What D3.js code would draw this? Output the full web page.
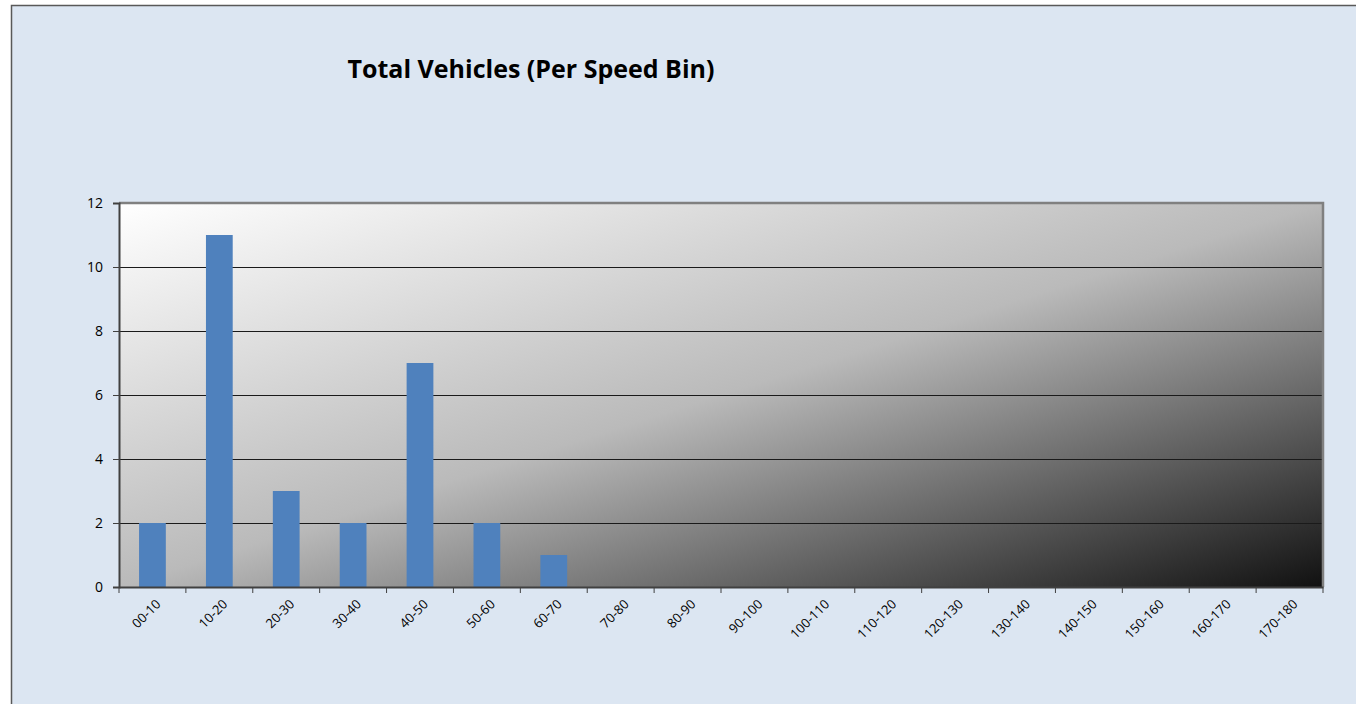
<!DOCTYPE html>
<html>
<head>
<meta charset="utf-8">
<script src="https://d3js.org/d3.v7.min.js"></script>
<style>
  body { margin: 0; background: #fff; }
  svg text { font-family: "Open Sans", "Noto Sans", sans-serif; }
</style>
</head>
<body>
<div id="chart"></div>
<script>
// data
var bins = ['00-10', '10-20', '20-30', '30-40', '40-50', '50-60', '60-70', '70-80', '80-90',
  '90-100', '100-110', '110-120', '120-130', '130-140', '140-150', '150-160', '160-170', '170-180'];
var vehicles = [2, 11, 3, 2, 7, 2, 1, 0, 0, 0, 0, 0, 0, 0, 0, 0, 0, 0];
var yTicks = [0, 2, 4, 6, 8, 10, 12];

var W = 1356, H = 704;
var plot = { left: 119, top: 203, right: 1323, bottom: 587 };

var svg = d3.select('#chart').append('svg')
  .attr('width', W).attr('height', H);

// chart frame
svg.append('rect')
  .attr('x', 11.5).attr('y', 5.5)
  .attr('width', W + 10).attr('height', H + 10)
  .attr('fill', '#dce6f2')
  .attr('stroke', '#595959').attr('stroke-width', 1.5);

// title
svg.append('text')
  .attr('x', 531).attr('y', 78)
  .attr('text-anchor', 'middle')
  .style('font-size', '25px').style('font-weight', 'bold')
  .attr('fill', '#000')
  .text('Total Vehicles (Per Speed Bin)');

// gradient for plot area
var grad = svg.append('defs').append('linearGradient')
  .attr('id', 'plotGrad')
  .attr('x1', 0).attr('y1', 0).attr('x2', 1).attr('y2', 1);
grad.append('stop').attr('offset', '0%').attr('stop-color', '#ffffff');
grad.append('stop').attr('offset', '50%').attr('stop-color', '#bababa');
grad.append('stop').attr('offset', '100%').attr('stop-color', '#111111');

var x = d3.scaleBand()
  .domain(bins)
  .range([plot.left, plot.right])
  .paddingInner(0.6).paddingOuter(0.3);

var xTick = d3.scaleBand().domain(bins).range([plot.left, plot.right]);

var y = d3.scaleLinear()
  .domain([0, 12])
  .range([plot.bottom, plot.top]);

svg.append('rect')
  .attr('x', plot.left).attr('y', plot.top)
  .attr('width', plot.right - plot.left).attr('height', plot.bottom - plot.top)
  .attr('fill', 'url(#plotGrad)');

// gridlines
svg.append('g').selectAll('line')
  .data(yTicks.filter(function(d) { return d > 0 && d < 12; }))
  .enter().append('line')
  .attr('x1', plot.left).attr('x2', plot.right)
  .attr('y1', function(d) { return Math.round(y(d)) + 0.5; })
  .attr('y2', function(d) { return Math.round(y(d)) + 0.5; })
  .attr('stroke', '#1a1a1a').attr('stroke-width', 1);

// top and right border of plot
svg.append('path')
  .attr('d', 'M' + plot.left + ',' + plot.top + 'H' + plot.right + 'V' + plot.bottom)
  .attr('fill', 'none').attr('stroke', '#808080').attr('stroke-width', 2.5);

// bars
svg.append('g').selectAll('rect')
  .data(vehicles)
  .enter().append('rect')
  .attr('x', function(d, i) { return x(bins[i]); })
  .attr('width', x.bandwidth())
  .attr('y', function(d) { return y(d); })
  .attr('height', function(d) { return y(0) - y(d); })
  .attr('fill', '#4f81bd');

// y axis
var yAxis = d3.axisLeft(y).tickValues(yTicks).tickSize(6).tickPadding(10);
var yG = svg.append('g')
  .attr('transform', 'translate(' + plot.left + ',0)')
  .call(yAxis);
yG.select('.domain').attr('stroke', '#404040').attr('stroke-width', 2);
yG.selectAll('.tick line').attr('stroke', '#404040');
yG.selectAll('.tick text')
  .style('font-size', '14px').attr('fill', '#000');

// x axis
var xAxis = d3.axisBottom(xTick).tickSize(0).tickFormat('');
var xG = svg.append('g')
  .attr('transform', 'translate(0,' + plot.bottom + ')')
  .call(xAxis);
xG.select('.domain').attr('stroke', '#404040').attr('stroke-width', 2);

// tick marks at band boundaries
xG.selectAll('.edge')
  .data(bins.concat(['end']))
  .enter().append('line')
  .attr('class', 'edge')
  .attr('x1', function(d, i) { return plot.left + i * xTick.bandwidth(); })
  .attr('x2', function(d, i) { return plot.left + i * xTick.bandwidth(); })
  .attr('y1', 0).attr('y2', 6)
  .attr('stroke', '#404040');

// rotated category labels
xG.selectAll('.lbl')
  .data(bins)
  .enter().append('text')
  .attr('class', 'lbl')
  .attr('text-anchor', 'end')
  .attr('transform', function(d) {
    return 'translate(' + (xTick(d) + xTick.bandwidth() / 2 + 9) + ',18) rotate(-45)';
  })
  .style('font-size', '13px').attr('fill', '#000')
  .text(function(d) { return d; });
</script>
</body>
</html>
